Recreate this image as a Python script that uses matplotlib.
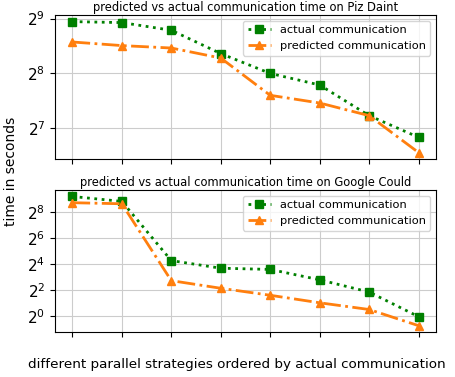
import numpy as np
import matplotlib.pyplot as plt
from matplotlib.ticker import LogFormatterSciNotation, FixedLocator, NullLocator

# strategies, ordered by actual communication time
strategies = np.arange(8)

# Piz Daint (seconds)
daint_actual = [493, 487, 442, 329, 256, 221, 150, 114]
daint_pred = [381, 364, 353, 311, 194, 176, 150, 94]

# Google Cloud (seconds)
gc_actual = [584, 449, 19.2, 12.8, 12.0, 6.9, 3.6, 0.97]
gc_pred = [419, 396, 6.6, 4.4, 3.03, 2.03, 1.42, 0.60]

fig = plt.figure(figsize=(4.55, 3.77), dpi=100)
ax1 = fig.add_axes([0.121, 0.578, 0.837, 0.382])
ax2 = fig.add_axes([0.121, 0.119, 0.837, 0.377])

panels = [
    (ax1, daint_actual, daint_pred, 'predicted vs actual communication time on Piz Daint', [2**7, 2**8, 2**9]),
    (ax2, gc_actual, gc_pred, 'predicted vs actual communication time on Google Could', [2**0, 2**2, 2**4, 2**6, 2**8]),
]

for ax, act, pred, title, yt in panels:
    ax.plot(strategies, act, color='green', linestyle=':', marker='s',
            linewidth=2, markersize=6, label='actual communication')
    ax.plot(strategies, pred, color='C1', linestyle='-.', marker='^',
            linewidth=2, markersize=6, label='predicted communication')
    ax.set_yscale('log', base=2)
    ax.yaxis.set_major_locator(FixedLocator(yt))
    ax.yaxis.set_major_formatter(LogFormatterSciNotation(base=2))
    ax.yaxis.set_minor_locator(NullLocator())
    ax.set_xticks(strategies)
    ax.set_xticklabels([])
    ax.tick_params(axis='y', labelsize=11)
    ax.grid(True, color='#cccccc')
    ax.set_title(title, fontsize=8.3, pad=3)
    ax.legend(loc='upper right', fontsize=8.2)

fig.text(0.025, 0.546, 'time in seconds', rotation=90, ha='center', va='center', fontsize=10)
fig.text(0.52, 0.032, 'different parallel strategies ordered by actual communication',
         ha='center', va='center', fontsize=9.7)

fig.savefig('out.png', dpi=100)
